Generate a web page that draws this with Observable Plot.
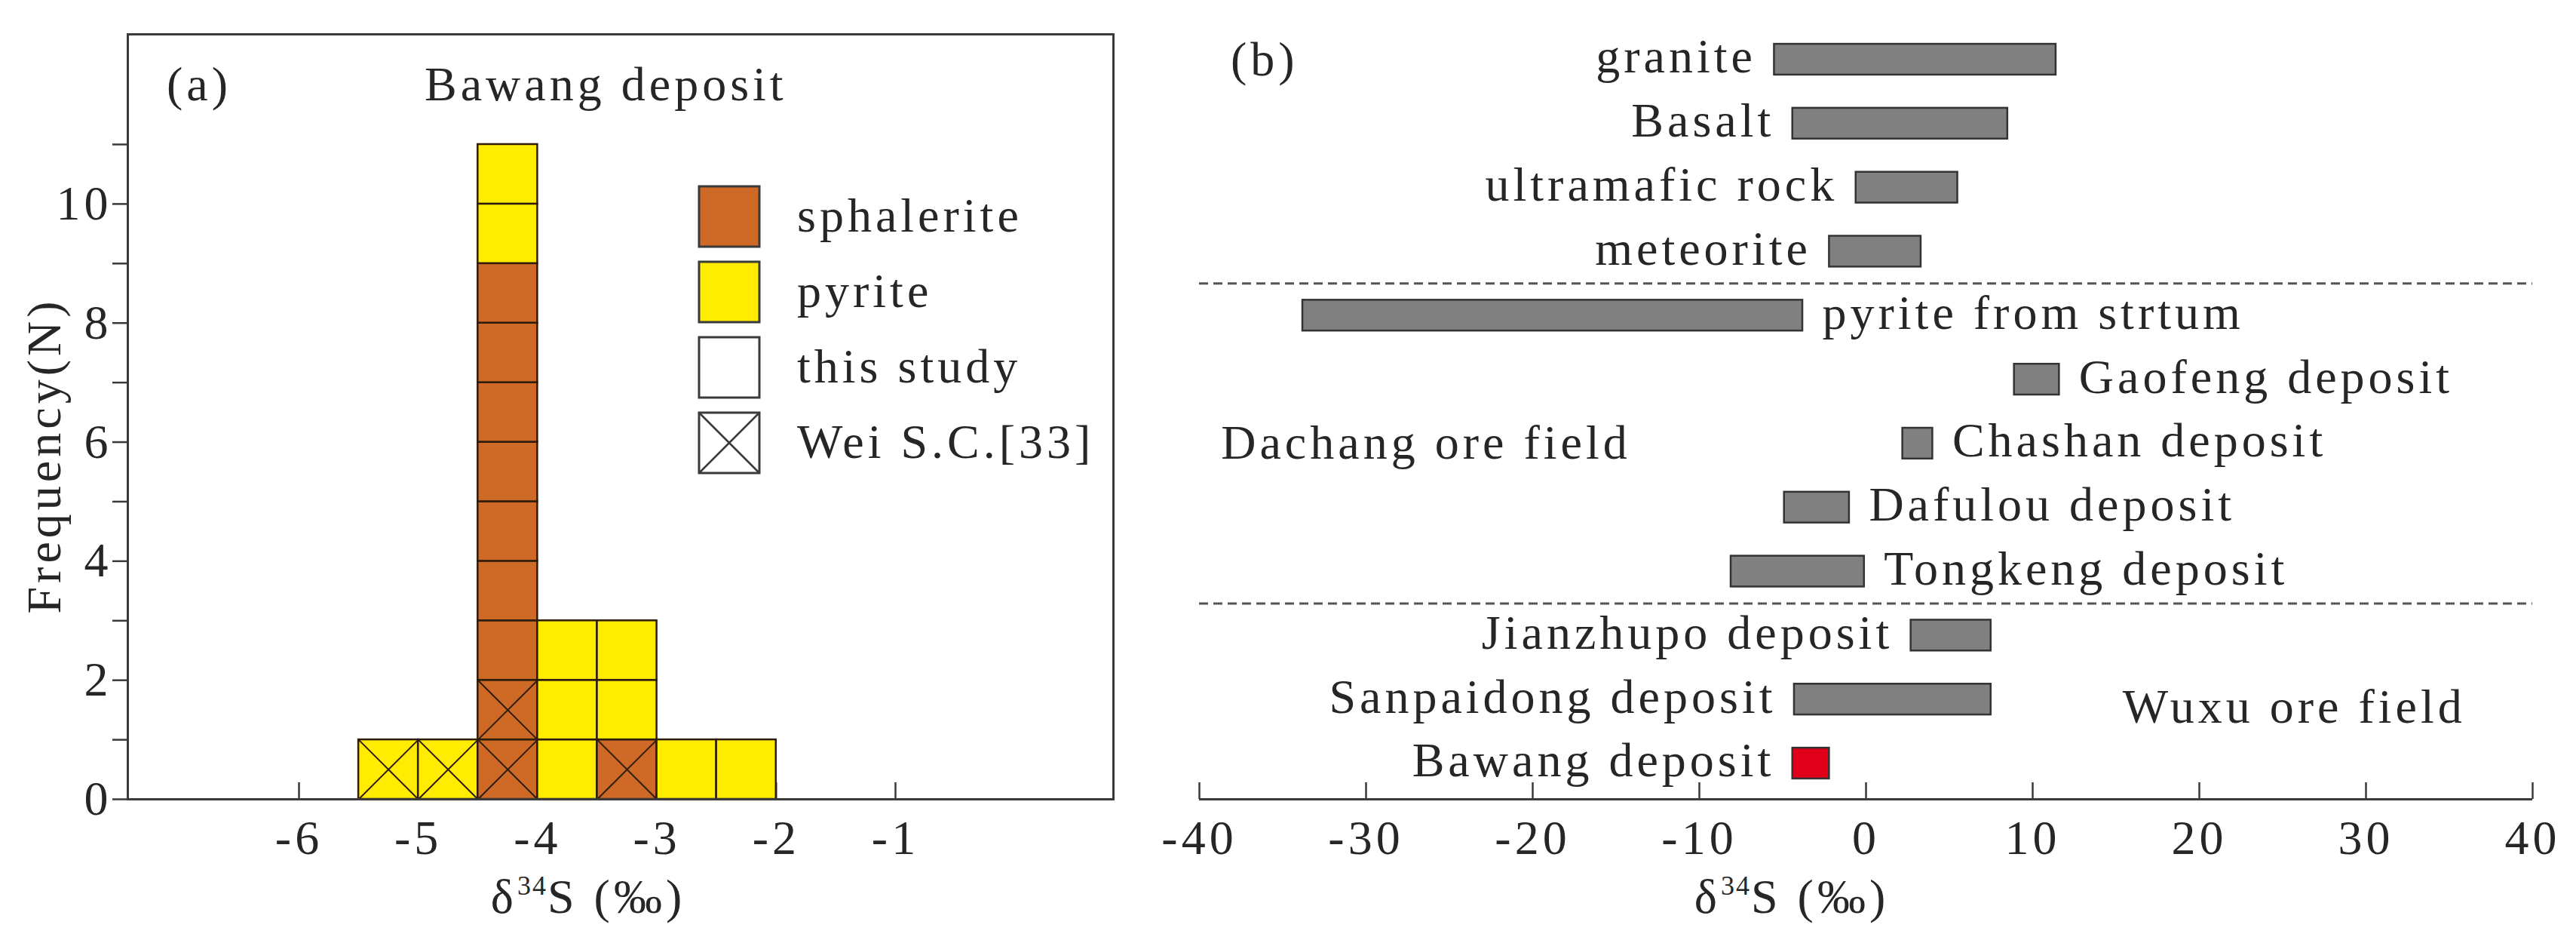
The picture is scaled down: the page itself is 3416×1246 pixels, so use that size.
<!DOCTYPE html>
<html><head><meta charset="utf-8">
<script src="https://cdn.jsdelivr.net/npm/d3@7"></script>
<script src="https://cdn.jsdelivr.net/npm/@observablehq/plot@0.6"></script>
<style>
html,body{margin:0;padding:0;background:#fff;}
#fig{position:relative;width:3416px;height:1246px;overflow:hidden;background:#fff;}
#fig svg{position:absolute;top:0;overflow:visible;}
</style></head><body><div id="fig"></div>
<script>
// ---------- Panel (a): Bawang deposit histogram ----------
const binStarts = [-5.5, -5.0, -4.5, -4.0, -3.5, -3.0, -2.5];
const binWidth = 0.5;
const sphaleriteWei  = [0, 0, 2, 0, 1, 0, 0];
const pyriteWei      = [1, 1, 0, 0, 0, 0, 0];
const sphaleriteThis = [0, 0, 7, 0, 0, 0, 0];
const pyriteThis     = [0, 0, 2, 3, 2, 1, 1];
const xTicksA = [-6, -5, -4, -3, -2, -1];
const yTicksA = [0, 1, 2, 3, 4, 5, 6, 7, 8, 9, 10, 11];
const legendItems = ["sphalerite", "pyrite", "this study", "Wei S.C.[33]"];

// ---------- Panel (b): d34S ranges ----------
const sources = ["granite", "Basalt", "ultramafic rock", "meteorite",
  "pyrite from strtum", "Gaofeng deposit", "Chashan deposit", "Dafulou deposit", "Tongkeng deposit",
  "Jianzhupo deposit", "Sanpaidong deposit", "Bawang deposit"];
const minD34S = [-5.5, -4.4, -0.6, -2.2, -33.8, 8.9, 2.2, -4.9, -8.1, 2.7, -4.3, -4.4];
const maxD34S = [11.4, 8.5, 5.5, 3.3, -3.8, 11.6, 4.0, -1.0, -0.1, 7.5, 7.5, -2.2];
const labelSide = ["left", "left", "left", "left", "right", "right", "right", "right", "right", "left", "left", "left"];
const groupSizes = [4, 5, 3];
const groupNames = ["", "Dachang ore field", "Wuxu ore field"];
const xTicksB = [-40, -30, -20, -10, 0, 10, 20, 30, 40];

// ---------- styles ----------
const FONT = "'Liberation Serif','Times New Roman',serif";
const TXT = "#262626";
const AX = "#3a3a3a";
const SPH = "#CE6A26";
const PYR = "#FFEC00";
const CELL = "#2e1c0c";
const GRAY = "#808080";
const RED = "#E1001A";
const baseStyle = `font-family:${FONT};font-size:64px;letter-spacing:5px;color:${TXT};background:transparent;overflow:visible;`;

const fig = document.getElementById("fig");

// ---------- build panel (a) ----------
const cells = [];
binStarts.forEach((b, j) => {
  let level = 0;
  for (const [mineral, source, arr] of [["sphalerite", "wei", sphaleriteWei], ["pyrite", "wei", pyriteWei],
                                       ["sphalerite", "this", sphaleriteThis], ["pyrite", "this", pyriteThis]]) {
    for (let k = 0; k < arr[j]; k++) {
      cells.push({x1: b, x2: b + binWidth, y1: level, y2: level + 1, mineral, source});
      level++;
    }
  }
});
const diagonals = cells.filter(c => c.source === "wei").flatMap(c => [
  {x1: c.x1, y1: c.y1, x2: c.x2, y2: c.y2},
  {x1: c.x1, y1: c.y2, x2: c.x2, y2: c.y1}
]);

const plotA = Plot.plot({
  width: 1500, height: 1246,
  marginLeft: 169, marginRight: 24, marginTop: 45, marginBottom: 187,
  style: baseStyle,
  x: {domain: [-7.435, 0.827]},
  y: {domain: [0, 12.85]},
  color: {domain: ["sphalerite", "pyrite"], range: [SPH, PYR]},
  marks: [
    Plot.ruleX(xTicksA, {y1: 0, y2: 0, insetTop: -22, stroke: AX, strokeWidth: 2.5}),
    Plot.axisX(xTicksA, {tickSize: 0, tickPadding: 27, tickFormat: d => String(d), label: null, fill: TXT}),
    Plot.axisY(yTicksA, {tickSize: 20, tickPadding: 1, tickFormat: d => d % 2 === 0 ? String(d) : "", label: null, stroke: AX, strokeWidth: 2.5, fill: TXT}),
    Plot.rect(cells, {x1: "x1", x2: "x2", y1: "y1", y2: "y2", fill: "mineral", stroke: CELL, strokeWidth: 2.5}),
    Plot.link(diagonals, {x1: "x1", y1: "y1", x2: "x2", y2: "y2", stroke: CELL, strokeWidth: 2}),
    Plot.frame({stroke: AX, strokeWidth: 3})
  ]
});
plotA.style.left = "0px";
fig.appendChild(plotA);

const sa = d3.select(plotA);
sa.append("text").attr("x", 221).attr("y", 133).attr("text-anchor", "start").attr("fill", TXT).text("(a)");
sa.append("text").attr("x", 563).attr("y", 133).attr("text-anchor", "start").attr("fill", TXT).text("Bawang deposit");
// legend
const leg = sa.append("g");
legendItems.forEach((name, i) => {
  const y0 = 247 + i * 100;
  const fill = name === "sphalerite" ? SPH : name === "pyrite" ? PYR : "#fff";
  leg.append("rect").attr("x", 927).attr("y", y0).attr("width", 80).attr("height", 80)
    .attr("fill", fill).attr("stroke", AX).attr("stroke-width", 3);
  if (name.startsWith("Wei")) {
    leg.append("path").attr("d", `M927,${y0}L1007,${y0 + 80}M927,${y0 + 80}L1007,${y0}`)
      .attr("stroke", AX).attr("stroke-width", 2.5);
  }
  leg.append("text").attr("x", 1057).attr("y", y0 + 60).attr("text-anchor", "start").attr("fill", TXT).text(name);
});
function deltaLabel(sel, cx, y) {
  const t = sel.append("text").attr("x", cx).attr("y", y).attr("text-anchor", "middle").attr("fill", TXT);
  t.append("tspan").text("δ");
  t.append("tspan").attr("dy", -24).attr("font-size", 36).attr("letter-spacing", "2px").text("34");
  t.append("tspan").attr("dy", 24).text("S (‰)");
}
deltaLabel(sa, 780, 1210);
sa.append("text").attr("transform", "translate(80,604) rotate(-90)").attr("text-anchor", "middle")
  .attr("fill", TXT).text("Frequency(N)");

// ---------- build panel (b) ----------
const rows = sources.map((name, i) => ({name, i, lo: minD34S[i], hi: maxD34S[i], side: labelSide[i]}));
const yTop = -0.56, yBottom = sources.length - 1 + 0.56;
const separators = [];
let acc = 0;
groupSizes.slice(0, -1).forEach(n => { acc += n; separators.push(acc - 0.5); });
const groupLabels = [];
acc = 0;
groupSizes.forEach((n, g) => { if (groupNames[g]) groupLabels.push({name: groupNames[g], start: acc, n}); acc += n; });

const plotB = Plot.plot({
  width: 1916, height: 1246,
  marginLeft: 90, marginRight: 58, marginTop: 31, marginBottom: 187,
  style: baseStyle,
  x: {domain: [-40, 40]},
  y: {domain: [yBottom, yTop], axis: null},
  marks: [
    Plot.ruleY([yBottom], {x1: -40, x2: 40, stroke: AX, strokeWidth: 3}),
    Plot.ruleX(xTicksB, {y1: yBottom, y2: yBottom, insetTop: -22, stroke: AX, strokeWidth: 2.5}),
    Plot.axisX(xTicksB, {tickSize: 0, tickPadding: 27, tickFormat: d => String(d), label: null, fill: TXT}),
    Plot.ruleY(separators, {x1: -40, x2: 40, stroke: "#555", strokeWidth: 3, strokeDasharray: "12,7"}),
    Plot.rect(rows, {x1: "lo", x2: "hi", y1: d => d.i - 0.5, y2: d => d.i + 0.5, insetTop: 22, insetBottom: 22,
      fill: d => d.name === "Bawang deposit" ? RED : GRAY, stroke: "#333", strokeWidth: 2.5}),
    Plot.text(rows.filter(d => d.side === "left"), {x: "lo", y: "i", text: "name", textAnchor: "end", dx: -24, dy: -3, fill: TXT}),
    Plot.text(rows.filter(d => d.side === "right"), {x: "hi", y: "i", text: "name", textAnchor: "start", dx: 26, dy: -3, fill: TXT}),
    Plot.text(groupLabels.filter(g => g.name.startsWith("Dachang")), {x: -38.7, y: g => g.start + 2, text: "name", textAnchor: "start", fill: TXT}),
    Plot.text(groupLabels.filter(g => g.name.startsWith("Wuxu")), {x: 15.4, y: g => g.start + 1, dy: 10, text: "name", textAnchor: "start", fill: TXT})
  ]
});
plotB.style.left = "1500px";
fig.appendChild(plotB);
const sb = d3.select(plotB);
sb.append("text").attr("x", 132).attr("y", 100).attr("text-anchor", "start").attr("fill", TXT).text("(b)");
deltaLabel(sb, 876, 1210);
</script>
</body></html>
